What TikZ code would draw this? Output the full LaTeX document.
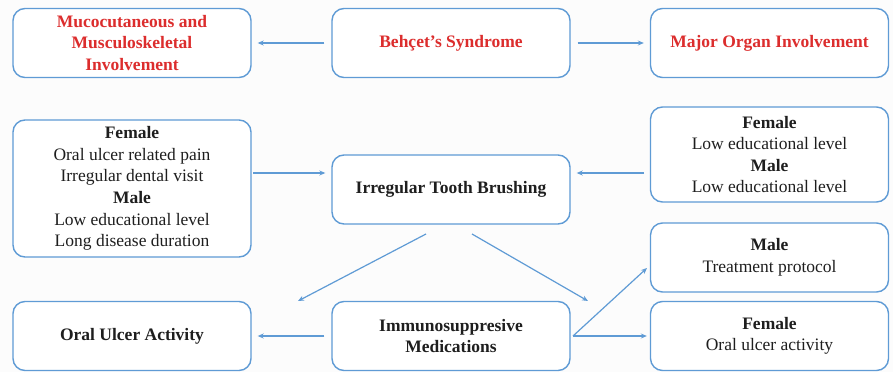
\documentclass[tikz,border=0pt]{standalone}
\usepackage{fontspec}
\setmainfont{Liberation Serif}
\usetikzlibrary{arrows.meta}
\definecolor{boxblue}{RGB}{95,155,213}
\definecolor{titlered}{RGB}{220,45,45}
\definecolor{txt}{RGB}{30,30,30}
\definecolor{bg}{RGB}{252,252,252}
\begin{document}
\begin{tikzpicture}[x=1pt,y=-1pt,
  box/.style={draw=boxblue,line width=1.4pt,rounded corners=12pt,fill=white,
    minimum width=238pt,align=center,inner sep=1pt,text=txt,
    font=\fontsize{17.5}{21.6}\selectfont},
  boldbox/.style={box,font=\fontsize{17.5}{21.6}\selectfont\bfseries},
  redbox/.style={boldbox,text=titlered},
  conn/.style={draw=boxblue,line width=1.2pt,-{Stealth[length=6pt,width=5pt]}},
  gap/.style={shorten <=7pt,shorten >=6pt}]
\fill[bg] (0,0) rectangle (893,372);
\useasboundingbox (0,0) rectangle (893,372);

\node[redbox,minimum height=69pt] (muco) at (132,43) {Mucocutaneous and\\Musculoskeletal\\Involvement};
\node[redbox,minimum height=69pt] (beh) at (451,43) {Behçet’s Syndrome};
\node[redbox,minimum height=69pt] (major) at (769.5,43) {Major Organ Involvement};

\node[box,minimum height=137pt] (lm) at (132,188.5) {\textbf{Female}\\Oral ulcer related pain\\Irregular dental visit\\\textbf{Male}\\Low educational level\\Long disease duration};
\node[boldbox,minimum height=69pt] (itb) at (451,189.5) {Irregular Tooth Brushing};
\node[box,minimum height=95pt] (rm) at (769.5,154.5) {\textbf{Female}\\Low educational level\\\textbf{Male}\\Low educational level};

\node[box,minimum height=69pt] (mt) at (769.5,257.5) {\textbf{Male}\\Treatment protocol};
\node[box,minimum height=69pt] (fo) at (769.5,336) {\textbf{Female}\\Oral ulcer activity};
\node[boldbox,minimum height=69pt] (oua) at (132,336) {Oral Ulcer Activity};
\node[boldbox,minimum height=69pt] (imm) at (451,336) {Immunosuppresive\\Medications};

\draw[conn,gap] (beh.west) -- (muco.east);
\draw[conn,gap] (beh.east) -- (major.west);

\coordinate (a1) at (253,173);
\coordinate (b1) at (644,173);
\draw[conn,shorten >=6pt] (a1) -- (itb.west |- a1);
\draw[conn,shorten >=6pt] (b1) -- (itb.east |- b1);

\coordinate (s1) at (426,234);
\coordinate (e1) at (298,301);
\coordinate (s2) at (472,234);
\coordinate (e2) at (588,301);
\draw[conn] (s1) -- (e1);
\draw[conn] (s2) -- (e2);

\draw[conn,gap] (imm.west) -- (oua.east);
\coordinate (fork) at (573,336);
\coordinate (t1) at (647,268);
\draw[conn] (fork) -- (t1);
\draw[conn,shorten >=3pt] (fork) -- (fo.west);
\end{tikzpicture}
\end{document}
